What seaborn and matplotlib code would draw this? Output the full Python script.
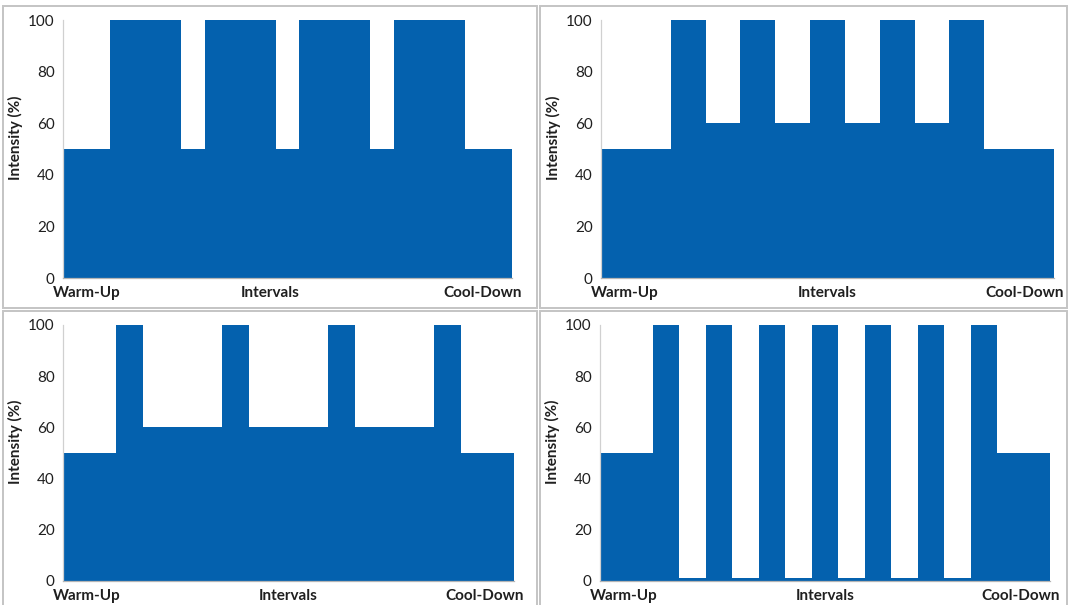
import numpy as np
import pandas as pd
import seaborn as sns
import matplotlib.pyplot as plt
from matplotlib.patches import Rectangle

# ---- data -------------------------------------------------------------
# each protocol: segment lengths (in category steps) and intensity (%) levels
durations_a = [2, 3, 1, 3, 1, 3, 1, 3, 2]
levels_a    = [50, 100, 50, 100, 50, 100, 50, 100, 50]

durations_b = [2, 1, 1, 1, 1, 1, 1, 1, 1, 1, 2]
levels_b    = [50, 100, 60, 100, 60, 100, 60, 100, 60, 100, 50]

durations_c = [2, 1, 3, 1, 3, 1, 3, 1, 2]
levels_c    = [50, 100, 60, 100, 60, 100, 60, 100, 50]

durations_d = [2, 1, 1, 1, 1, 1, 1, 1, 1, 1, 1, 1, 1, 1, 2]
levels_d    = [50, 100, 1, 100, 1, 100, 1, 100, 1, 100, 1, 100, 1, 100, 50]

phase_labels = ["Warm-Up", "Intervals", "Cool-Down"]
y_ticks = [0, 20, 40, 60, 80, 100]
y_label = "Intensity (%)"

# ---- style ------------------------------------------------------------
sns.set_theme(style="white")
plt.rcParams['font.family'] = ['Lato', 'DejaVu Sans']

BLUE = "#0461AE"
AXIS_GRAY = "#B5B5B5"
TEXT = "#1F1F1F"

W, H = 1070, 605
fig = plt.figure(figsize=(W / 100, H / 100), dpi=100)
fig.patch.set_facecolor("white")

def px_axes(x0, x1, ytop, ybot):
    return fig.add_axes([x0 / W, 1 - ybot / H, (x1 - x0) / W, (ybot - ytop) / H])

panels = [
    (durations_a, levels_a, (63, 512, 20, 278), -17),
    (durations_b, levels_b, (601, 1054, 20, 278), 0),
    (durations_c, levels_c, (63, 514, 325, 581), 0),
    (durations_d, levels_d, (600, 1050, 325, 581), 0),
]

for durs, levs, box, mid_off in panels:
    ax = px_axes(*box)
    edges = [0.0] + [float(v) for v in np.cumsum(durs)]
    mids = [(a + b) / 2 for a, b in zip(edges[:-1], edges[1:])]
    df = pd.DataFrame({"t": mids, "intensity": levs})
    sns.histplot(data=df, x="t", weights="intensity", bins=edges,
                 element="step", fill=True, color=BLUE, alpha=1,
                 linewidth=0, ax=ax)
    total = edges[-1]
    ax.set_xlim(0, total)
    ax.set_ylim(0, 100)
    ax.set_xlabel("")
    ax.set_ylabel(y_label, fontsize=11, fontweight="bold", color=TEXT)
    width_px = box[1] - box[0]
    ax.yaxis.set_label_coords(-40 / width_px, 0.545)
    ax.set_yticks(y_ticks)
    ax.set_yticklabels([str(v) for v in y_ticks], fontsize=11, color=TEXT)
    ax.set_xticks(np.arange(0, total + 1))
    ax.set_xticklabels([])
    ax.tick_params(axis="x", direction="out", length=4, width=0.8, color=AXIS_GRAY, pad=1)
    ax.tick_params(axis="y", direction="out", length=3, width=0.8, color="#D9D9D9", pad=3)
    for s in ["top", "right"]:
        ax.spines[s].set_visible(False)
    ax.spines["left"].set_color("#D0D0D0")
    ax.spines["left"].set_linewidth(0.9)
    ax.spines["bottom"].set_color(AXIS_GRAY)
    ax.spines["bottom"].set_linewidth(0.9)
    ax.grid(False)

    # phase labels beneath the axis
    ax.annotate(phase_labels[0], xy=(0, 0), xycoords="axes fraction",
                xytext=(-10, -8), textcoords="offset pixels",
                ha="left", va="top", fontsize=11, fontweight="bold", color=TEXT)
    ax.annotate(phase_labels[1], xy=(0.5, 0), xycoords="axes fraction",
                xytext=(mid_off, -8), textcoords="offset pixels",
                ha="center", va="top", fontsize=11, fontweight="bold", color=TEXT)
    ax.annotate(phase_labels[2], xy=(1, 0), xycoords="axes fraction",
                xytext=(10, -8), textcoords="offset pixels",
                ha="right", va="top", fontsize=11, fontweight="bold", color=TEXT)

# panel frames (figure pixel coordinates, top origin)
frames = [(3, 6, 537, 308), (540, 6, 1067, 308), (3, 311, 537, 612), (540, 311, 1067, 612)]
for x0, y0, x1, y1 in frames:
    fig.add_artist(Rectangle((x0 / W, 1 - y1 / H), (x1 - x0) / W, (y1 - y0) / H,
                             transform=fig.transFigure, fill=False,
                             edgecolor="#C4C4C4", linewidth=1.4))

fig.savefig("out.png", dpi=100)
